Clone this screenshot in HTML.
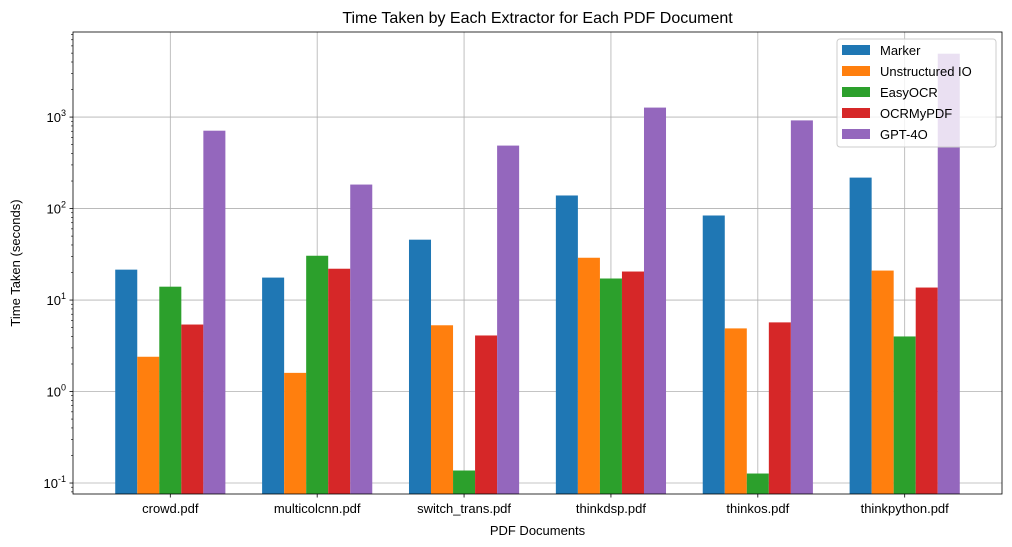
<!DOCTYPE html>
<html><head><meta charset="utf-8"><style>
body{margin:0;background:#fff;}
svg{display:block;font-family:"Liberation Sans","DejaVu Sans",sans-serif;}
</style></head><body>
<svg id="chart" width="1012" height="547"></svg>
<script>
const categories=["crowd.pdf","multicolcnn.pdf","switch_trans.pdf","thinkdsp.pdf","thinkos.pdf","thinkpython.pdf"];
const seriesNames=["Marker","Unstructured IO","EasyOCR","OCRMyPDF","GPT-4O"];
const marker=[21.5,17.6,45.7,139,84,218];
const unstructured=[2.4,1.6,5.3,29,4.9,21];
const easyocr=[14,30.5,0.137,17.2,0.127,4];
const ocrmypdf=[5.4,22,4.1,20.5,5.7,13.7];
const gpt4o=[710,183,488,1270,920,4930];
const yTickExps=[-1,0,1,2,3];
const colors=["#1f77b4","#ff7f0e","#2ca02c","#d62728","#9467bd"];
const series=[marker,unstructured,easyocr,ocrmypdf,gpt4o];

const L=73,R=1002,T=32,B=494;
const xMin=-0.6625,xMax=5.6625;
const logMin=-1.12,logMax=3.93;
const x=v=>L+(v-xMin)/(xMax-xMin)*(R-L);
const y=v=>B-(Math.log10(v)-logMin)/(logMax-logMin)*(B-T);
const svg=document.getElementById('chart');
const NS="http://www.w3.org/2000/svg";
function mk(tag,attrs,parent){const e=document.createElementNS(NS,tag);for(const k in attrs)e.setAttribute(k,attrs[k]);(parent||svg).appendChild(e);return e;}

// grid
categories.forEach((c,i)=>{const g=mk('line',{x1:x(i),x2:x(i),y1:T,y2:B,stroke:'#b0b0b0','stroke-width':0.8});

});
yTickExps.forEach(e=>{const g=mk('line',{x1:L,x2:R,y1:y(Math.pow(10,e)),y2:y(Math.pow(10,e)),stroke:'#b0b0b0','stroke-width':0.8});

});

// bars
const bw=0.15;
series.forEach((s,si)=>{s.forEach((v,i)=>{
  const cx=i+(si-2)*bw;
  const r=mk('rect',{x:x(cx-bw/2),width:x(cx+bw/2)-x(cx-bw/2),y:y(v),height:B-y(v),fill:colors[si]});
  
  
});});

// axes box
const box=mk('rect',{x:L,y:T,width:R-L,height:B-T,fill:'none',stroke:'#000','stroke-width':0.8});



// x ticks
categories.forEach((c,i)=>{
  mk('line',{x1:x(i),x2:x(i),y1:B,y2:B+3.5,stroke:'#000','stroke-width':0.8});
  const t=mk('text',{x:x(i),y:B+19,'text-anchor':'middle','font-size':13});t.textContent=c;
  
  
});
// y ticks
yTickExps.forEach(e=>{
  const yy=y(Math.pow(10,e));
  mk('line',{x1:L-3.5,x2:L,y1:yy,y2:yy,stroke:'#000','stroke-width':0.8});
  const t=mk('text',{x:L-7,y:yy+5,'text-anchor':'end','font-size':13});
  t.innerHTML='10<tspan dy="-6" font-size="9">'+e+'</tspan>';
  
  
});
for(let e=-2;e<=3;e++)for(let m=2;m<=9;m++){const v=m*Math.pow(10,e);
  if(Math.log10(v)<logMin||Math.log10(v)>logMax)continue;
  mk('line',{x1:L-2,x2:L,y1:y(v),y2:y(v),stroke:'#000','stroke-width':0.6});}

// titles
let t=mk('text',{x:(L+R)/2,y:23,'text-anchor':'middle','font-size':16});t.textContent='Time Taken by Each Extractor for Each PDF Document';


t=mk('text',{x:(L+R)/2,y:535,'text-anchor':'middle','font-size':13});t.textContent='PDF Documents';


t=mk('text',{x:20,y:(T+B)/2,'text-anchor':'middle','font-size':13,transform:'rotate(-90 20 '+((T+B)/2)+')'});t.textContent='Time Taken (seconds)';



// legend
const lg=mk('g',{});


mk('rect',{x:837,y:39,width:159,height:108,rx:3,fill:'#fff','fill-opacity':0.8,stroke:'#ccc'},lg);
seriesNames.forEach((n,i)=>{
  const yy=50+i*21;
  const e=mk('g',{},lg);
  
  
  mk('rect',{x:842,y:yy-5,width:28,height:10,fill:colors[i]},e);
  const tx=mk('text',{x:880,y:yy+5,'font-size':13},e);tx.textContent=n;
});
</script>
</body></html>
